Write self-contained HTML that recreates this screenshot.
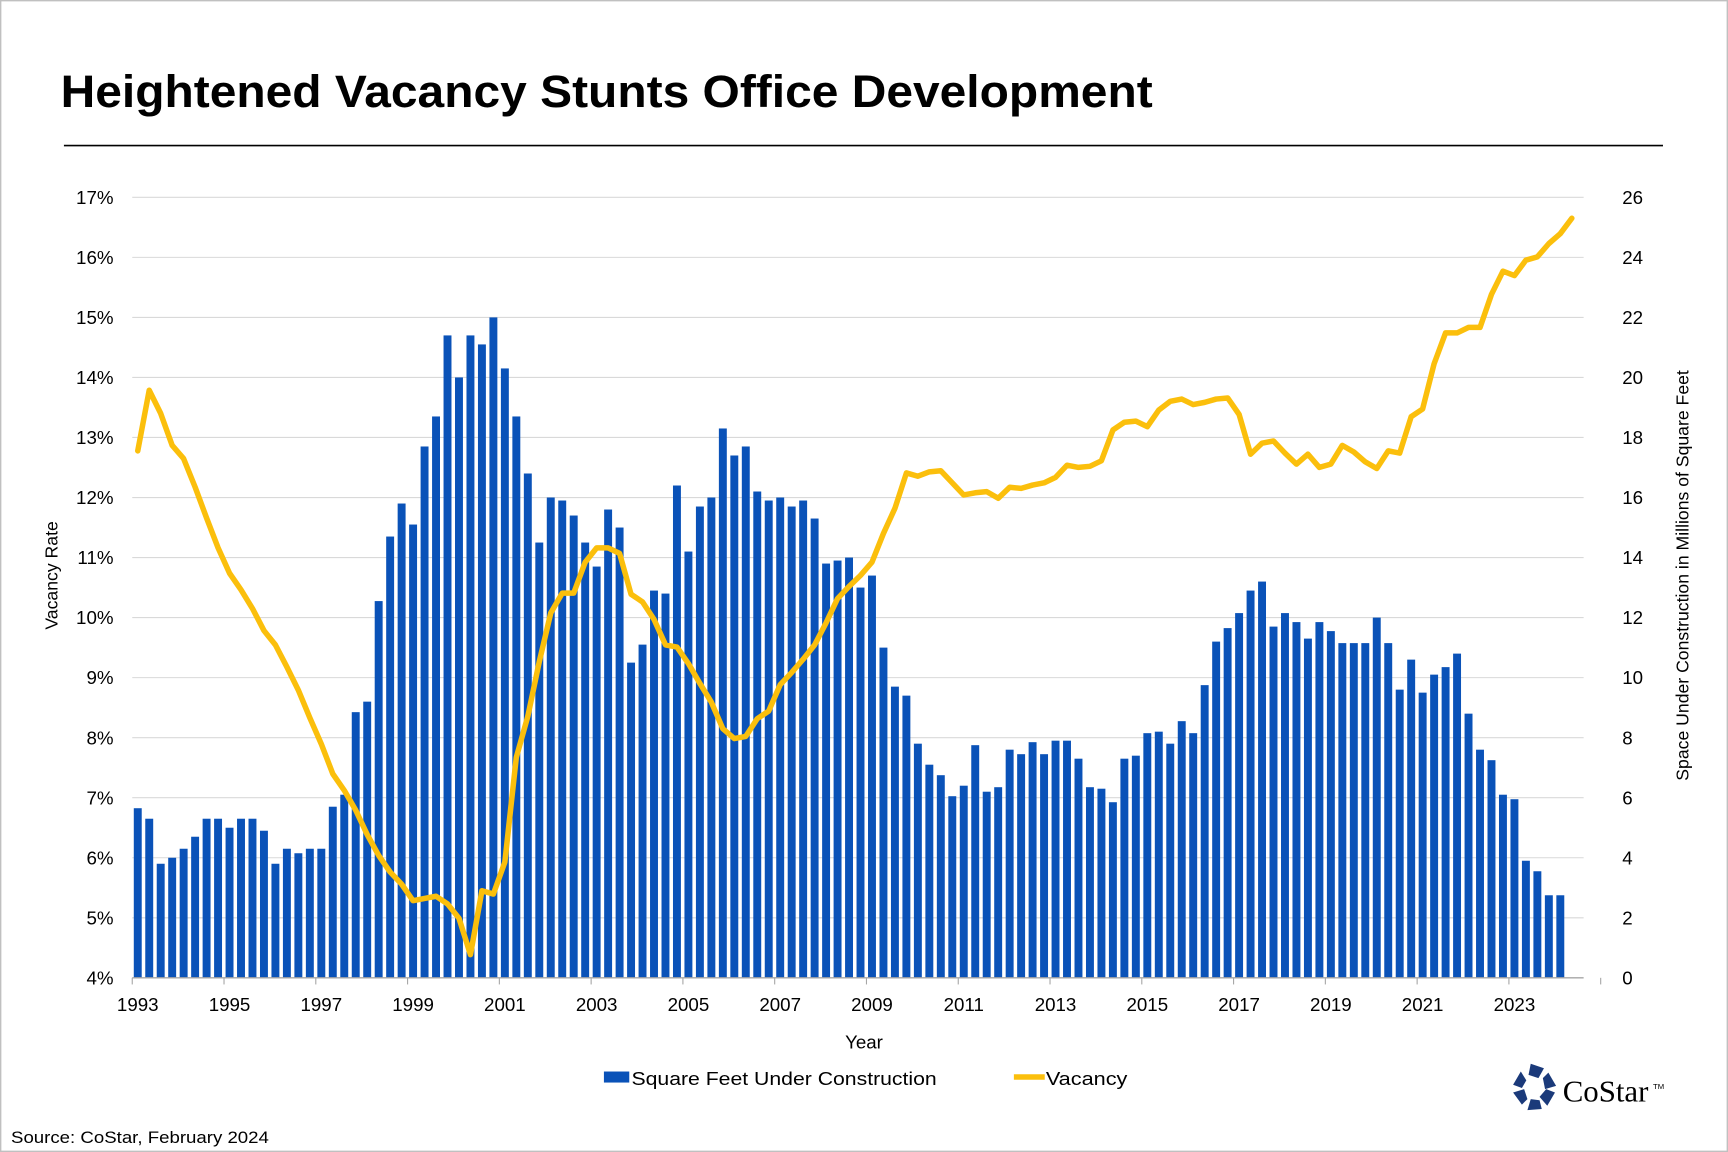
<!DOCTYPE html>
<html><head><meta charset="utf-8"><style>
html,body{margin:0;padding:0;background:#fff;width:1728px;height:1152px;overflow:hidden}
svg{display:block}
text{font-family:"Liberation Sans",Arial,sans-serif;fill:#000}
</style></head><body>
<svg id="c" width="1728" height="1152" viewBox="0 0 1568 1045" preserveAspectRatio="none" xmlns="http://www.w3.org/2000/svg">
<rect x="0.5" y="0.5" width="1567" height="1044" fill="#fff" stroke="#c0c0c0" stroke-width="1.5"/>
<text x="55" y="97" font-size="41" font-weight="bold" textLength="991" lengthAdjust="spacingAndGlyphs">Heightened Vacancy Stunts Office Development</text>
<line x1="58" y1="132" x2="1509" y2="132" stroke="#000" stroke-width="1.5"/>
<g id="grid"></g>
<g id="bars" fill="#0a52b8"></g>
<polyline id="vac" fill="none" stroke="#fbbf0c" stroke-width="5" stroke-linejoin="round" stroke-linecap="round"/>
<line x1="120" y1="887" x2="1437" y2="887" stroke="#a6a6a6" stroke-width="1.2"/>
<g id="lab" font-size="17"></g>
<text x="784" y="951" font-size="17" text-anchor="middle">Year</text>
<text transform="translate(52,522) rotate(-90)" font-size="16" text-anchor="middle">Vacancy Rate</text>
<text transform="translate(1532,522) rotate(-90)" font-size="16" text-anchor="middle">Space Under Construction in Millions of Square Feet</text>
<rect x="548" y="972" width="23" height="10" fill="#0a52b8"/>
<text x="573" y="984" font-size="17" textLength="277" lengthAdjust="spacingAndGlyphs">Square Feet Under Construction</text>
<line x1="920" y1="977" x2="948" y2="977" stroke="#fbbf0c" stroke-width="5"/>
<text x="949" y="984" font-size="17" textLength="74" lengthAdjust="spacingAndGlyphs">Vacancy</text>
<text x="10" y="1037" font-size="15" textLength="234" lengthAdjust="spacingAndGlyphs">Source: CoStar, February 2024</text>
<g fill="#1b3a7a" transform="translate(1392,987)">
<polygon points="-3,-22 9,-18 4,-9 -5,-12"/>
<polygon points="13,-14 20,-2 10,1 8,-9"/>
<polygon points="19,4 12,16 5,8 11,1"/>
<polygon points="7,19 -6,20 -3,10 5,11"/>
<polygon points="-11,15 -19,4 -9,1 -6,10"/>
<polygon points="-19,-3 -12,-15 -7,-7 -11,0"/>
</g>
<text x="1418" y="999" font-size="28" style="font-family:'Liberation Serif',serif">CoStar</text>
<text x="1500" y="988" font-size="7">TM</text>
</svg>
<script>
const ns="http://www.w3.org/2000/svg";
function el(t,a,p,txt){const e=document.createElementNS(ns,t);for(const k in a)e.setAttribute(k,a[k]);if(txt!==undefined)e.textContent=txt;document.getElementById(p).appendChild(e);return e;}
const y0=887,yT=179;
for(let i=0;i<=13;i++){const y=y0-(y0-yT)*i/13;
 if(i>0)el('line',{x1:120,y1:y,x2:1437,y2:y,stroke:'#d9d9d9','stroke-width':1},'grid');
 el('text',{x:103,y:y+6,'text-anchor':'end'},'lab',(4+i)+'%');}
for(let i=0;i<=13;i++){const y=y0-(y0-yT)*i/13;el('text',{x:1472,y:y+6},'lab',String(i*2));}
const pitch=10.41,x0=125;
for(let k=0;k<=15;k++){el('text',{x:x0+k*8*pitch,y:917,'text-anchor':'middle'},'lab',String(1993+2*k));}
for(let k=0;k<=16;k++){const x=x0-5+k*8*pitch;el('line',{x1:x,y1:887,x2:x,y2:893,stroke:'#a6a6a6'},'grid');}
const v=[5.65,5.3,3.8,4.0,4.3,4.7,5.3,5.3,5.0,5.3,5.3,4.9,3.8,4.3,4.15,4.3,4.3,5.7,6.1,8.85,9.2,12.55,14.7,15.8,15.1,17.7,18.7,21.4,20.0,21.4,21.1,22.0,20.3,18.7,16.8,14.5,16.0,15.9,15.4,14.5,13.7,15.6,15.0,10.5,11.1,12.9,12.8,16.4,14.2,15.7,16.0,18.3,17.4,17.7,16.2,15.9,16.0,15.7,15.9,15.3,13.8,13.9,14.0,13.0,13.4,11.0,9.7,9.4,7.8,7.1,6.75,6.05,6.4,7.75,6.2,6.35,7.6,7.45,7.85,7.45,7.9,7.9,7.3,6.35,6.3,5.85,7.3,7.4,8.15,8.2,7.8,8.55,8.15,9.75,11.2,11.65,12.15,12.9,13.2,11.7,12.15,11.85,11.3,11.85,11.55,11.15,11.15,11.15,12.0,11.15,9.6,10.6,9.5,10.1,10.35,10.8,8.8,7.6,7.25,6.1,5.95,3.9,3.55,2.75,2.75];
const u=(y0-yT)/26;
v.forEach((h,i)=>{el('rect',{x:x0+i*pitch-3.6,y:y0-h*u,width:7.2,height:h*u},'bars');});
const ys=[409,354,375,404,416,442,470,497,520,535,552,572,585,605,626,651,675,702,717,735,757,776,791,802,817,815,813,820,833,866,808,811,782,687,650,600,556,538,538,510,497,497,502,539,546,562,585,587,602,620,637,661,670,668,652,645,621,610,598,585,565,543,532,522,510,484,461,429,432,428,427,438,449,447,446,452,442,443,440,438,433,422,424,423,418,390,383,382,387,372,364,362,367,365,362,361,376,412,402,400,411,421,412,424,421,404,410,419,425,409,411,378,371,330,302,302,297,297,267,246,250,236,233,221,212,198];
document.getElementById('vac').setAttribute('points',ys.map((y,i)=>(x0+i*pitch).toFixed(1)+','+y).join(' '));
</script>
</body></html>
